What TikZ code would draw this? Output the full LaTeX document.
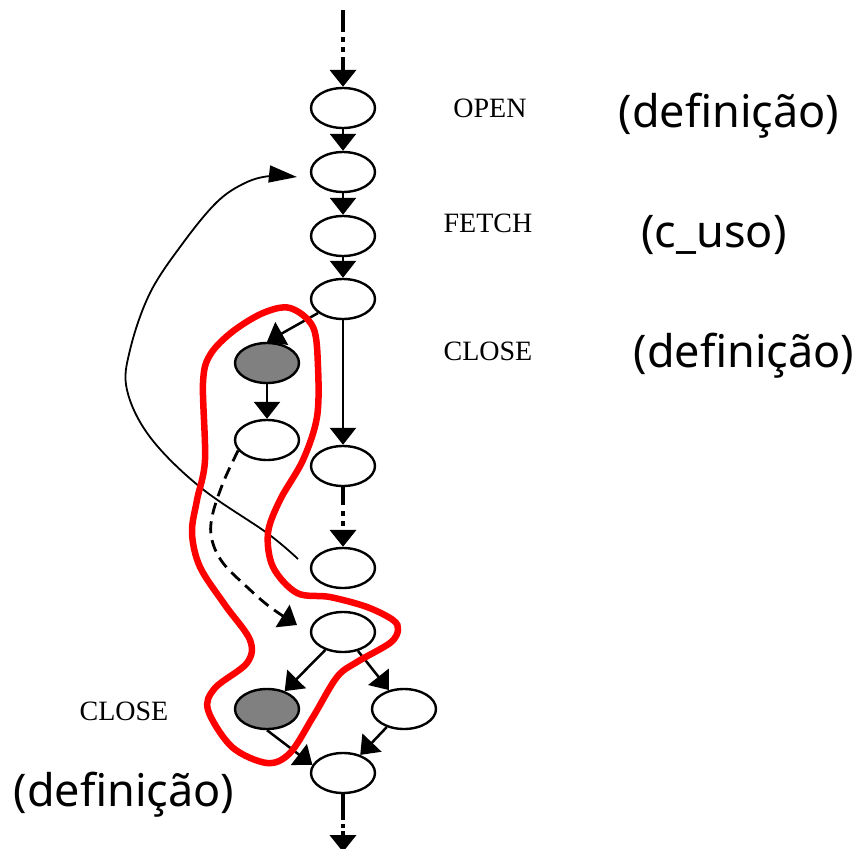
\documentclass[tikz,border=0pt]{standalone}
\usepackage{fontspec}
\setmainfont{Liberation Serif}
\newfontfamily\notosans{Noto Sans}
\usetikzlibrary{shapes.geometric,arrows.meta}
\tikzset{
  st/.style={ellipse, draw, line width=2.4pt, minimum width=64pt, minimum height=40pt, inner sep=0pt, fill=white},
  gr/.style={st, fill=black!50},
  arr/.style={line width=2.5pt, -{Triangle[length=17pt,width=26pt]}},
  dd/.style={line width=4pt, -{Triangle[length=17pt,width=26pt]}},
  backarr/.style={line width=1.8pt, -{Triangle[length=28pt,width=17pt]}},
  dsh/.style={line width=2.8pt, dash pattern=on 12pt off 7pt, -{Triangle[length=17pt,width=26pt]}},
  lbl/.style={font=\fontsize{28}{30}\selectfont, anchor=base, inner sep=0pt},
  big/.style={font=\notosans\fontsize{45}{50}\selectfont, anchor=base, inner sep=0pt},
  loop/.style={draw=red, line width=6.5pt}
}
\begin{document}
\begin{tikzpicture}[x=1pt,y=-1pt]
\useasboundingbox (0,0) rectangle (860,849);
% nodes
\node[st] (n1) at (343,108) {};
\node[st] (n2) at (343,172) {};
\node[st] (n3) at (343,236) {};
\node[st] (n4) at (343,299) {};
\node[gr] (g1) at (267,363) {};
\node[st] (w1) at (267,440) {};
\node[st] (n5) at (343,466) {};
\node[st] (n6) at (343,568) {};
\node[st] (n7) at (343,632) {};
\node[gr] (g2) at (267,709) {};
\node[st] (r1) at (404,709) {};
\node[st] (nb) at (343,773) {};
\coordinate (top) at (343,10);
\coordinate (bot) at (343,852);
\coordinate (bs) at (298,559);
\coordinate (be) at (297,177);
\coordinate (de) at (297,625);
% labels
\node[lbl] (t1) at (490,117) {OPEN};
\node[lbl] (t2) at (488,232) {FETCH};
\node[lbl] (t3) at (488,360) {CLOSE};
\node[lbl] (t4) at (124,720) {CLOSE};
\node[big] (b1) at (729,127) {(definição)};
\node[big] (b2) at (714,247) {(c\_uso)};
\node[big] (b3) at (744,367) {(definição)};
\node[big] (b4) at (124,806) {(definição)};
% edges
\draw[dd, dash pattern=on 22pt off 5pt on 5pt off 5pt on 5pt off 5pt] (top) -- (n1);
\draw[arr] (n1) -- (n2);
\draw[arr] (n2) -- (n3);
\draw[arr] (n3) -- (n4);
\draw[arr] (n4) -- (g1.north);
\draw[arr] (n4) -- (n5);
\draw[arr] (g1) -- (w1);
\draw[dd, dash pattern=on 18pt off 6pt on 5pt off 5pt on 5pt off 12pt] (n5) -- (n6);
\draw[arr] (n7) -- (g2);
\draw[arr] (n7) -- (r1);
\draw[arr] (g2.south) -- (nb.165);
\draw[arr] (r1) -- (nb);
\draw[dd, dash pattern=on 26pt off 4pt on 4pt off 3pt on 4pt off 12pt] (nb) -- (bot);
\draw[backarr] plot[smooth, tension=0.6] coordinates {(bs) (267,533) (200,487) (150,437) (127,390) (130,350) (150,293) (183,243) (217,202) (245,183) (270,176) (be)};
\draw[dsh] plot[smooth, tension=0.6] coordinates {(w1.200) (223,483) (212,517) (212,540) (223,563) (247,587) (270,607) (de)};
% red loop
\draw[loop] plot[smooth cycle, tension=0.55] coordinates {
(290,308) (313,327) (318,367) (317,417) (303,460) (280,500) (268,533) (273,567) (297,593)
(330,597) (367,607) (393,620) (398,630) (390,643) (357,662) (337,677) (313,717) (290,753)
(267,763) (232,747) (208,710) (215,688) (247,663) (250,640) (225,605) (200,567) (192,533)
(197,500) (205,460) (203,383) (210,355) (232,332) (263,313)};
\end{tikzpicture}
\end{document}
